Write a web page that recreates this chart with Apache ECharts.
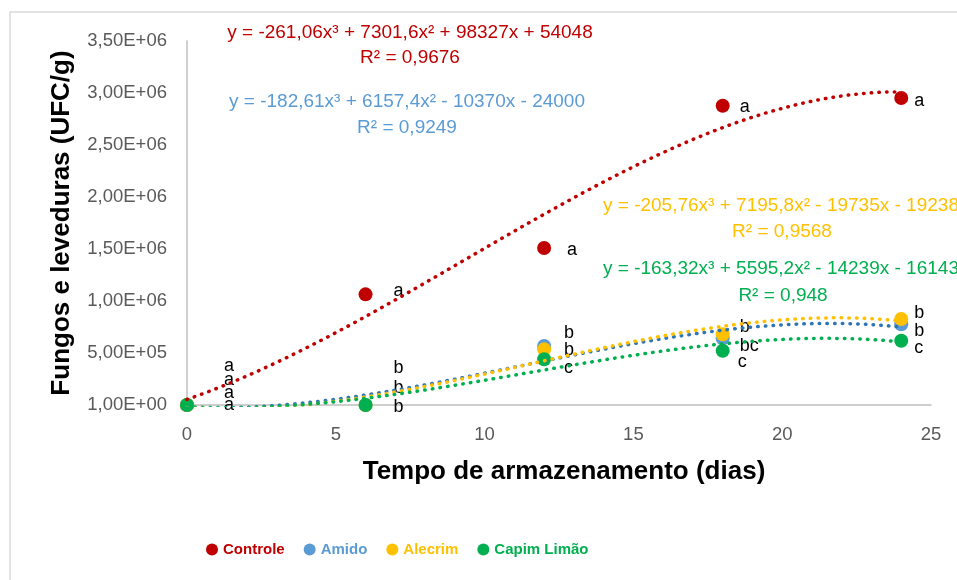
<!DOCTYPE html>
<html>
<head>
<meta charset="utf-8">
<script src="https://cdn.jsdelivr.net/npm/echarts@6/dist/echarts.min.js"></script>
<style>
html,body{margin:0;padding:0;background:#fff;}
#chart{width:957px;height:580px;}
</style>
</head>
<body>
<div id="chart"></div>
<script>
// ---- data ----
const xDays = [0, 6, 12, 18, 24];
const seriesNames = ['Controle', 'Amido', 'Alecrim', 'Capim Limão'];
const controleValues = [1, 1064000, 1510000, 2878000, 2952000];
const amidoValues = [1, 1, 567000, 641000, 776000];
const alecrimValues = [1, 1, 535000, 680000, 827000];
const capimValues = [1, 1, 440000, 522000, 618000];
const controleLetters = ['a', 'a', 'a', 'a', 'a'];
const amidoLetters = ['a', 'b', 'b', 'bc', 'b'];
const alecrimLetters = ['a', 'b', 'b', 'b', 'b'];
const capimLetters = ['a', 'b', 'c', 'c', 'c'];
// trendline coefficients (x³, x², x, 1) as printed on the chart
const controleCoef = [-261.06, 7301.6, 98327, 54048];
const amidoCoef = [-182.61, 6157.4, -10370, -24000];
const alecrimCoef = [-205.76, 7195.8, -19735, -19238];
const capimCoef = [-163.32, 5595.2, -14239, -16143];
const controleEq = 'y = -261,06x³ + 7301,6x² + 98327x + 54048';
const amidoEq = 'y = -182,61x³ + 6157,4x² - 10370x - 24000';
const alecrimEq = 'y = -205,76x³ + 7195,8x² - 19735x - 19238';
const capimEq = 'y = -163,32x³ + 5595,2x² - 14239x - 16143';
const controleR2 = 'R² = 0,9676';
const amidoR2 = 'R² = 0,9249';
const alecrimR2 = 'R² = 0,9568';
const capimR2 = 'R² = 0,948';
const yTickLabels = ['1,00E+00', '5,00E+05', '1,00E+06', '1,50E+06', '2,00E+06', '2,50E+06', '3,00E+06', '3,50E+06'];
const xTitle = 'Tempo de armazenamento (dias)';
const yTitle = 'Fungos e leveduras (UFC/g)';

// ---- styling ----
const FONT = '"Liberation Sans", Arial, sans-serif';
const markerColors = ['#C00000', '#5B9BD5', '#FFC000', '#00B050'];
const trendColors = ['#C00000', '#2E75B6', '#FFC000', '#00B050'];
const labelShift = [
  [[30, -39], [21, -3], [16, 2], [10, 1], [6, 3]],
  [[30, -25], [21, -37], [13, -13], [10, 8], [6, 7]],
  [[30, -12], [21, -17], [13, 1], [10, -7], [6, -6]],
  [[30, 0], [21, 2], [13, 9], [8, 11], [6, 7]]
];

const values = [controleValues, amidoValues, alecrimValues, capimValues];
const letters = [controleLetters, amidoLetters, alecrimLetters, capimLetters];
const coefs = [controleCoef, amidoCoef, alecrimCoef, capimCoef];

function trend(c) {
  const pts = [];
  for (let i = 0; i <= 240; i++) {
    const x = i / 10;
    pts.push([x, ((c[0] * x + c[1]) * x + c[2]) * x + c[3]]);
  }
  return pts;
}

const series = [];
seriesNames.forEach((name, s) => {
  series.push({
    name: name,
    type: 'scatter',
    symbol: 'circle',
    symbolSize: 14,
    z: 2,
    itemStyle: { color: markerColors[s], opacity: 1 },
    data: xDays.map((x, i) => ({
      value: [x, values[s][i]],
      label: {
        show: true,
        formatter: letters[s][i],
        position: 'right',
        distance: 0,
        offset: labelShift[s][i],
        color: '#000',
        fontSize: 18,
        fontFamily: FONT
      }
    })),
    emphasis: { disabled: true }
  });
});
seriesNames.forEach((name, s) => {
  series.push({
    name: name + ' (tendência)',
    type: 'line',
    z: 3,
    silent: true,
    showSymbol: false,
    symbol: 'none',
    clip: true,
    data: trend(coefs[s]),
    lineStyle: { color: trendColors[s], width: 3.5, type: [0.5, 7.2], cap: 'round' },
    emphasis: { disabled: true }
  });
});

function eqText(text, x, y, color, align) {
  return {
    type: 'text', x: x, y: y, z: 10,
    style: { text: text, fill: color, font: '19px ' + FONT, textAlign: align, textVerticalAlign: 'middle' }
  };
}

const chart = echarts.init(document.getElementById('chart'), null, { renderer: 'canvas' });
chart.setOption({
  backgroundColor: '#fff',
  animation: false,
  grid: { left: 187, right: 26, top: 41, bottom: 175, containLabel: false },
  xAxis: {
    type: 'value', min: 0, max: 25, interval: 5,
    name: xTitle, nameLocation: 'middle', nameGap: 54,
    nameTextStyle: { fontSize: 26, fontWeight: 'bold', color: '#000', fontFamily: FONT, padding: [0, 0, 0, 10] },
    axisLine: { show: true, lineStyle: { color: '#BFBFBF', width: 1.5 } },
    axisTick: { show: false },
    splitLine: { show: false },
    axisLabel: { color: '#595959', fontSize: 18.5, fontFamily: FONT, margin: 20 }
  },
  yAxis: {
    type: 'value', min: 0, max: 3500000, interval: 500000,
    name: yTitle, nameLocation: 'middle', nameGap: 112, nameRotate: 90,
    nameTextStyle: { fontSize: 26, fontWeight: 'bold', color: '#000', fontFamily: FONT },
    axisLine: { show: true, lineStyle: { color: '#BFBFBF', width: 1.5 } },
    axisTick: { show: false },
    splitLine: { show: false },
    axisLabel: {
      color: '#595959', fontSize: 18.5, fontFamily: FONT, margin: 20,
      formatter: v => yTickLabels[Math.round(v / 500000)]
    }
  },
  legend: {
    data: seriesNames.map((n, i) => ({ name: n, textStyle: { color: markerColors[i] } })),
    left: 201, top: 537,
    icon: 'circle', itemWidth: 12, itemHeight: 12, itemGap: 19,
    textStyle: { fontSize: 15, fontWeight: 'bold', fontFamily: FONT },
    selectedMode: false
  },
  graphic: [
    { type: 'rect', shape: { x: 10, y: 12, width: 1000, height: 700 }, style: { fill: 'none', stroke: '#D9D9D9', lineWidth: 1.5 }, z: -1, silent: true },
    eqText(controleEq, 410, 33, '#C00000', 'center'),
    eqText(controleR2, 410, 58, '#C00000', 'center'),
    eqText(amidoEq, 407, 102, '#5B9BD5', 'center'),
    eqText(amidoR2, 407, 128, '#5B9BD5', 'center'),
    eqText(alecrimEq, 603, 206, '#FFC000', 'left'),
    eqText(alecrimR2, 782, 232, '#FFC000', 'center'),
    eqText(capimEq, 603, 269, '#00B050', 'left'),
    eqText(capimR2, 783, 296, '#00B050', 'center')
  ],
  series: series
});
</script>
</body>
</html>
